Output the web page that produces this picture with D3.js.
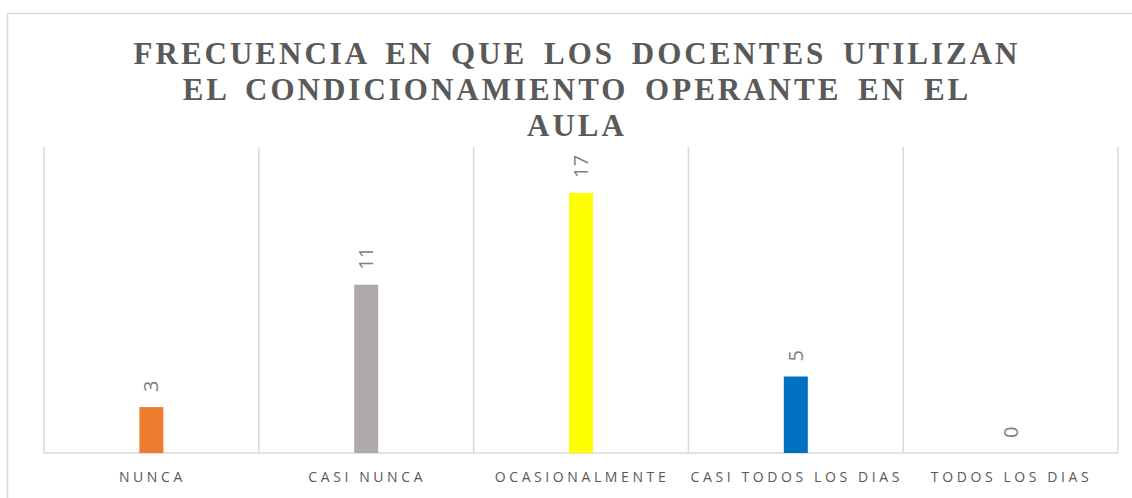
<!DOCTYPE html>
<html>
<head>
<meta charset="utf-8">
<script src="https://cdn.jsdelivr.net/npm/d3@7"></script>
<style>
  body { margin: 0; background: #fff; }
  .title { font-family: "Liberation Serif", serif; font-weight: bold; fill: #595959; }
  .cat-label { font-family: "Open Sans", sans-serif; fill: #595959; }
  .value-label { font-family: "Open Sans", sans-serif; fill: #808080; }
</style>
</head>
<body>
<svg id="chart"></svg>
<script>
// Data
const categories = ["NUNCA", "CASI NUNCA", "OCASIONALMENTE", "CASI TODOS LOS DIAS", "TODOS LOS DIAS"];
const values = [3, 11, 17, 5, 0];
const barColors = ["#ED7D31", "#AEAAAA", "#FFFF00", "#0070C0", "#5B9BD5"];
const titleLines = ["FRECUENCIA EN QUE LOS DOCENTES UTILIZAN", "EL CONDICIONAMIENTO OPERANTE EN EL", "AULA"];

const width = 1132;
const height = 498;
const margin = { top: 147, right: 14, bottom: 45, left: 44 };
const innerWidth = width - margin.left - margin.right;
const innerHeight = height - margin.top - margin.bottom;

const svg = d3.select("#chart")
    .attr("width", width)
    .attr("height", height);

// chart border
svg.append("rect")
    .attr("x", 7.5)
    .attr("y", 13.5)
    .attr("width", 1140)
    .attr("height", 500)
    .attr("fill", "none")
    .attr("stroke", "#d9d9d9")
    .attr("stroke-width", 1.5);

// title
svg.append("text")
    .attr("class", "title")
    .attr("text-anchor", "middle")
    .style("font-size", "31px")
    .style("letter-spacing", "3px")
    .style("word-spacing", "6px")
    .selectAll("tspan")
    .data(titleLines)
    .enter()
    .append("tspan")
    .attr("x", 577)
    .attr("y", (d, i) => 64 + i * 36)
    .text(d => d);

const g = svg.append("g")
    .attr("transform", `translate(${margin.left}, ${margin.top})`);

const x = d3.scaleBand()
    .domain(categories)
    .range([0, innerWidth]);

const y = d3.scaleLinear()
    .domain([0, 20])
    .range([innerHeight, 0]);

// vertical gridlines between categories
g.selectAll(".grid")
    .data(d3.range(categories.length + 1))
    .enter()
    .append("line")
    .attr("x1", i => i * x.bandwidth())
    .attr("x2", i => i * x.bandwidth())
    .attr("y1", 0)
    .attr("y2", innerHeight)
    .attr("stroke", "#d9d9d9")
    .attr("stroke-width", 1.5);

// baseline
g.append("line")
    .attr("x1", 0)
    .attr("x2", innerWidth)
    .attr("y1", innerHeight)
    .attr("y2", innerHeight)
    .attr("stroke", "#d9d9d9")
    .attr("stroke-width", 1.5);

const barWidth = 24;

g.selectAll(".bar")
    .data(values)
    .enter()
    .append("rect")
    .attr("class", "bar")
    .attr("x", (d, i) => x(categories[i]) + x.bandwidth() / 2 - barWidth / 2)
    .attr("y", d => y(d))
    .attr("width", barWidth)
    .attr("height", d => innerHeight - y(d))
    .attr("fill", (d, i) => barColors[i]);

// value labels, rotated
g.selectAll(".value-label")
    .data(values)
    .enter()
    .append("text")
    .attr("class", "value-label")
    .attr("transform", (d, i) => `translate(${x(categories[i]) + x.bandwidth() / 2 + 7}, ${y(d) - 15}) rotate(-90)`)
    .attr("text-anchor", "start")
    .style("font-size", "20px")
    .text(d => d);

// category labels
g.selectAll(".cat-label")
    .data(categories)
    .enter()
    .append("text")
    .attr("class", "cat-label")
    .attr("x", d => x(d) + x.bandwidth() / 2 + 1)
    .attr("y", innerHeight + 29)
    .attr("text-anchor", "middle")
    .style("font-size", "14px")
    .style("letter-spacing", "3.6px")
    .text(d => d);
</script>
</body>
</html>
